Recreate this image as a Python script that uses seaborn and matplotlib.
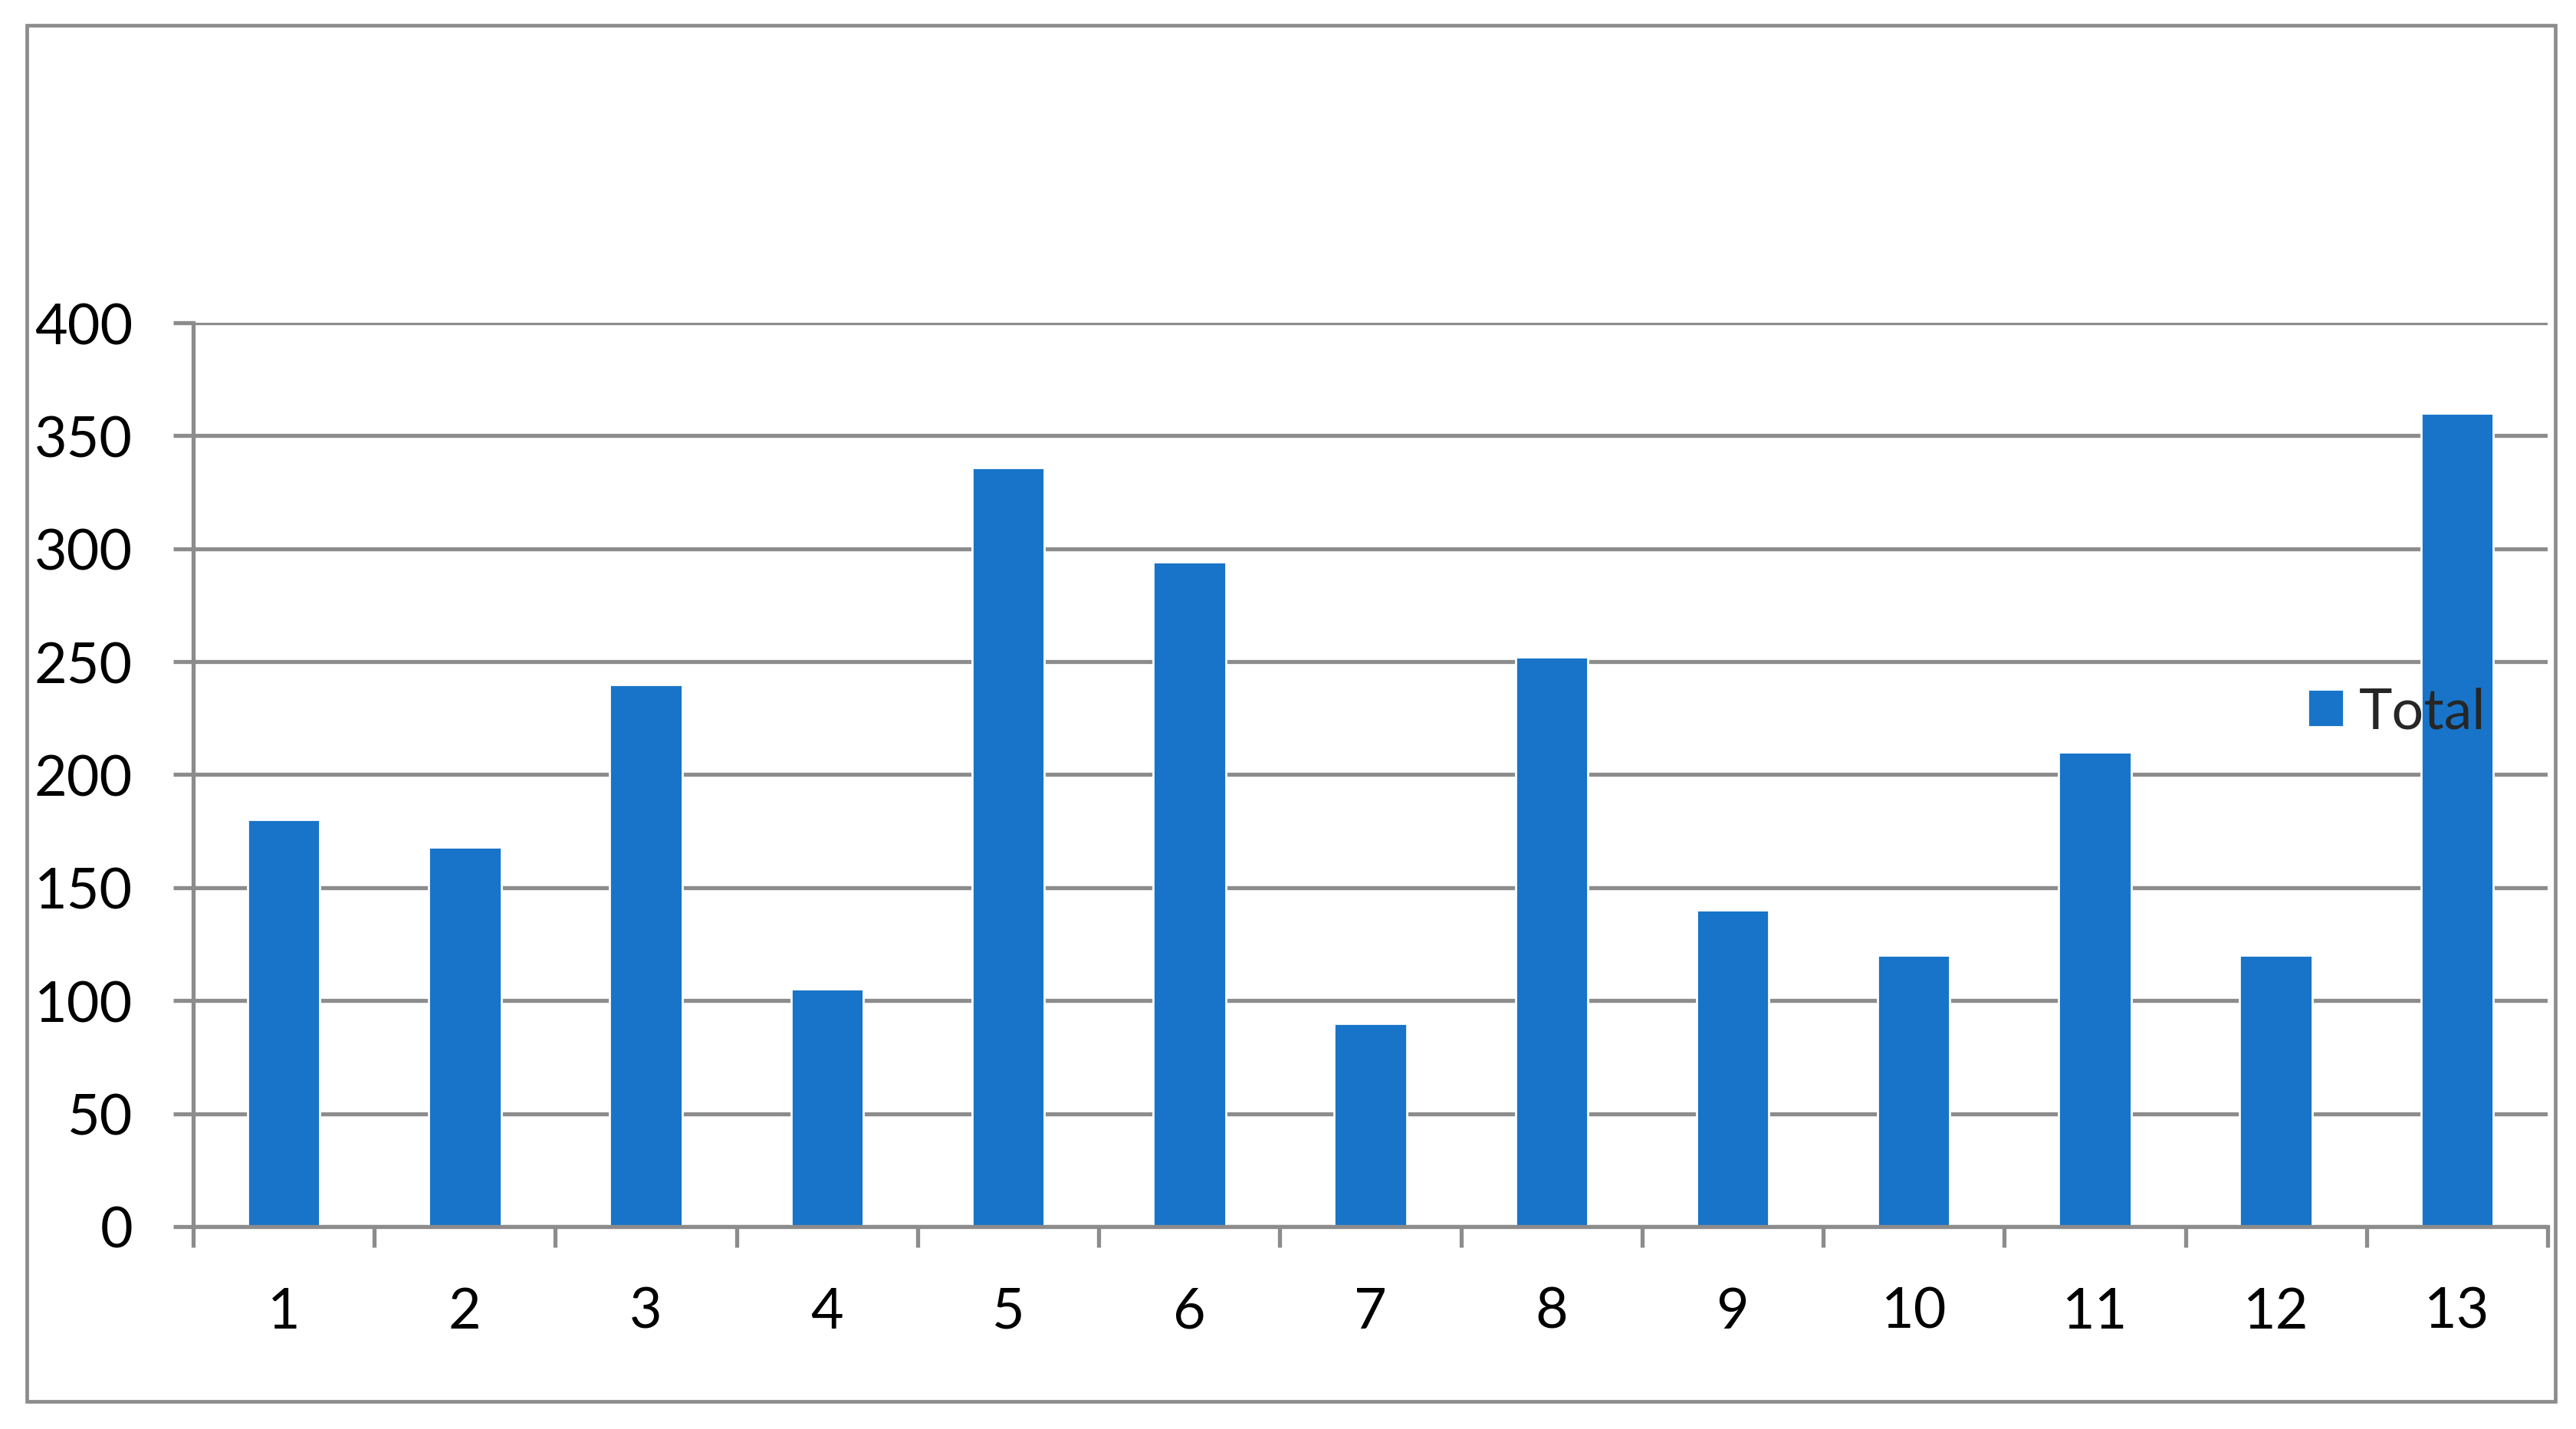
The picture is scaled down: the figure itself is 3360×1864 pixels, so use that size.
import matplotlib
matplotlib.use("Agg")
import matplotlib.pyplot as plt
import seaborn as sns
from matplotlib.patches import Rectangle
from matplotlib.ticker import FixedLocator

categories = ["1", "2", "3", "4", "5", "6", "7", "8", "9", "10", "11", "12", "13"]
totals = [180, 168, 240, 105, 336, 294, 90, 252, 140, 120, 210, 120, 360]
series_name = "Total"
y_ticks = [0, 50, 100, 150, 200, 250, 300, 350, 400]

BAR_COLOR = "#1874C8"
GRAY = "#8C8C8C"
LW = 1.9

sns.set_theme(style="white")
plt.rcParams["font.family"] = ["Lato", "DejaVu Sans"]


def main():
    fig = plt.figure(figsize=(16.8, 9.325), dpi=200)
    ax = fig.add_axes([0.075, 0.1416, 0.914, 0.6321])

    sns.barplot(x=categories, y=totals, color=BAR_COLOR, width=0.4,
                saturation=1, label=series_name, ax=ax)

    ax.set_xlim(-0.5, len(categories) - 0.5)
    ax.set_ylim(0, 400)
    ax.set_yticks(y_ticks)
    ax.set_yticklabels([str(v) for v in y_ticks])

    # y grid + ticks like Excel
    ax.yaxis.grid(True, color=GRAY, linewidth=LW)
    ax.xaxis.grid(False)
    ax.set_axisbelow(True)
    ax.tick_params(axis="y", length=9.4, width=LW, color=GRAY, pad=19,
                   labelsize=26.5, labelcolor="black", left=True)

    # category boundary ticks on x
    ax.xaxis.set_minor_locator(FixedLocator([i - 0.5 for i in range(len(categories) + 1)]))
    ax.tick_params(axis="x", which="minor", length=9.7, width=LW, color=GRAY, bottom=True)
    ax.tick_params(axis="x", which="major", length=0, pad=28, labelsize=26.5,
                   labelcolor="black")

    for side in ["top", "right"]:
        ax.spines[side].set_visible(False)
    for side in ["left", "bottom"]:
        ax.spines[side].set_color(GRAY)
        ax.spines[side].set_linewidth(LW)

    ax.set_xlabel("")
    ax.set_ylabel("")

    ax.legend(loc="center left", bbox_to_anchor=(0.8958, 0.5013),
              bbox_transform=fig.transFigure, frameon=False, fontsize=26.5,
              handlelength=0.64, handleheight=0.64, handletextpad=0.27,
              borderpad=0, borderaxespad=0)

    # outer chart border
    fig.patches.append(Rectangle((0.0104, 0.0193), 0.9816, 0.9627,
                                 transform=fig.transFigure, fill=False,
                                 edgecolor=GRAY, linewidth=1.7))

    fig.savefig("out.png", dpi=200, facecolor="white")
    plt.close(fig)


if __name__ == "__main__":
    main()
